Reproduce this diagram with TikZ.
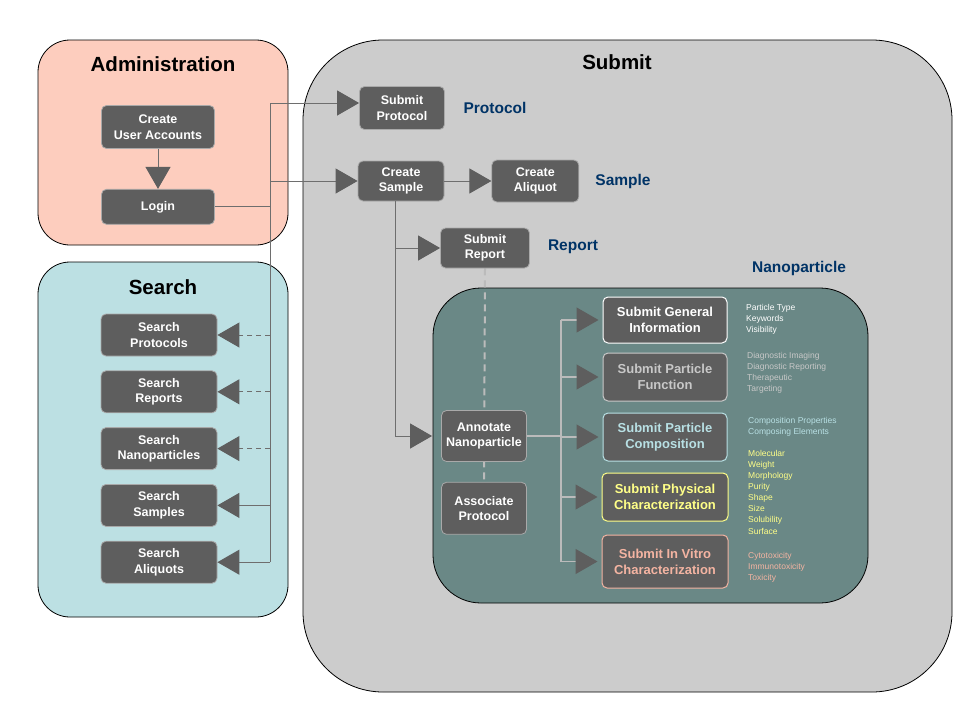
\documentclass[tikz,border=0pt]{standalone}
\usepackage{fontspec}
\setmainfont{Liberation Sans}
\usetikzlibrary{positioning,arrows.meta}

\definecolor{adminfill}{HTML}{FDCDBE}
\definecolor{searchfill}{HTML}{BCE0E3}
\definecolor{submitfill}{HTML}{CCCCCC}
\definecolor{nanofill}{HTML}{6A8886}
\definecolor{boxgray}{HTML}{5E5E5E}
\definecolor{boxedge}{HTML}{A9A9A9}
\definecolor{labelblue}{HTML}{003366}
\definecolor{lightline}{HTML}{BBBBBB}
\definecolor{funcgray}{HTML}{C8C8C8}
\definecolor{compcyan}{HTML}{B8E0E4}
\definecolor{physyellow}{HTML}{FFFF88}
\definecolor{vitrosalmon}{HTML}{F4B4A2}

\pgfdeclarelayer{panels}
\pgfdeclarelayer{behind}
\pgfsetlayers{panels,behind,main}

\tikzset{
  panel/.style={draw=black, line width=0.8pt},
  title/.style={font=\bfseries\fontsize{20.5}{24}\selectfont},
  area/.style={font=\bfseries\fontsize{15.5}{18}\selectfont, text=labelblue},
  box/.style={draw=boxedge, fill=boxgray, rounded corners=5pt, text=white, align=center,
    font=\bfseries\fontsize{12.5}{15.5}\selectfont, inner sep=2pt, minimum height=42pt, line width=0.8pt},
  subbox/.style={box, font=\bfseries\fontsize{13}{16}\selectfont, minimum width=124pt, minimum height=48pt, line width=1pt},
  conn/.style={draw=boxgray!90!white, line width=1pt},
  lconn/.style={draw=lightline, line width=1.2pt},
  tri/.style={-{Triangle[length=22pt,width=25pt,color=boxgray]}},
  notes/.style={anchor=north west, align=left, inner sep=0pt, font=\fontsize{8.5}{11.1}\selectfont}
}

\begin{document}
\begin{tikzpicture}[x=1pt, y=-1pt]
  \useasboundingbox (0,0) rectangle (960,720);

  % Panels
  \begin{pgfonlayer}{panels}
    \draw[panel, fill=adminfill, rounded corners=32pt] (38,40) rectangle (288,245);
    \draw[panel, fill=searchfill, rounded corners=32pt] (38,262) rectangle (288,617);
    \draw[panel, fill=submitfill, rounded corners=80pt] (303,40) rectangle (952,692);
    \draw[panel, fill=nanofill, rounded corners=48pt] (433,288) rectangle (868,603);
  \end{pgfonlayer}

  % Titles
  \node[title] (tadmin) at (163,64) {Administration};
  \node[title] (tsearch) at (163,287) {Search};
  \node[title] (tsubmit) at (617,62) {Submit};

  % Administration
  \node[box, minimum width=113pt, minimum height=43pt] (cua) at (158,127) {Create\\User Accounts};
  \node[box, minimum width=113pt, minimum height=35pt, below=40pt of cua] (login) {Login};

  % Search
  \node[box, minimum width=116pt] (sprots) at (159,335) {Search\\Protocols};
  \node[box, minimum width=116pt, below=14pt of sprots] (sreps) {Search\\Reports};
  \node[box, minimum width=116pt, below=14pt of sreps] (snanos) {Search\\Nanoparticles};
  \node[box, minimum width=116pt, below=14pt of snanos] (ssamps) {Search\\Samples};
  \node[box, minimum width=116pt, below=14pt of ssamps] (saliqs) {Search\\Aliquots};

  % Submit
  \node[box, minimum width=85pt, minimum height=43pt] (sprot) at (402,108) {Submit\\Protocol};
  \node[box, minimum width=86pt, minimum height=40pt] (csample) at (401,181) {Create\\Sample};
  \node[box, minimum width=87pt, right=47pt of csample] (caliquot) {Create\\Aliquot};
  \node[box, minimum width=89pt, minimum height=40pt] (sreport) at (485,248) {Submit\\Report};
  \node[box, minimum width=85pt, minimum height=51pt] (annot) at (484,436) {Annotate\\Nanoparticle};
  \node[box, minimum width=85pt, minimum height=52pt, below=20pt of annot] (assoc) {Associate\\Protocol};

  % Area labels
  \node[area] (lprot) at (495,108) {Protocol};
  \node[area] (lsample) at (623,181) {Sample};
  \node[area] (lreport) at (573,247) {Report};
  \node[area] (lnano) at (799,268) {Nanoparticle};

  % Nanoparticle boxes
  \node[subbox, draw=white, minimum height=46pt] (sgen) at (665,320) {Submit General\\Information};
  \node[subbox, draw=funcgray, text=funcgray, below=9pt of sgen] (sfunc) {Submit Particle\\Function};
  \node[subbox, draw=compcyan, text=compcyan, below=11pt of sfunc] (scomp) {Submit Particle\\Composition};
  \node[subbox, draw=physyellow, text=physyellow, minimum width=126pt, below=11pt of scomp] (sphys) {Submit Physical\\Characterization};
  \node[subbox, draw=vitrosalmon, text=vitrosalmon, minimum width=126pt, minimum height=53pt, below=13pt of sphys] (svitro) {Submit In Vitro\\Characterization};

  % Notes
  \node[notes, text=white] (ngen) at (746,304) {Particle Type\\Keywords\\Visibility};
  \node[notes, text=funcgray] (nfunc) at (747,352) {Diagnostic Imaging\\Diagnostic Reporting\\Therapeutic\\Targeting};
  \node[notes, text=compcyan] (ncomp) at (748,417) {Composition Properties\\Composing Elements};
  \node[notes, text=physyellow] (nphys) at (748,450) {Molecular\\Weight\\Morphology\\Purity\\Shape\\Size\\Solubility\\Surface};
  \node[notes, text=vitrosalmon] (nvitro) at (748,552) {Cytotoxicity\\Immunotoxicity\\Toxicity};

  % Login bus
  \coordinate (busT) at (270,103);
  \coordinate (busB) at (270,558);
  \draw[conn] (login.east) -- (login.east -| busT);
  \draw[conn] (busT) -- (busB |- saliqs);
  \draw[conn, tri] (busT) -- (sprot.west |- busT);
  \draw[conn, tri] (busT |- csample) -- (csample.west);
  \draw[conn, tri] (cua.south) -- (login.north);

  % Search arrows
  \draw[conn, dashed, dash pattern=on 5pt off 4pt, tri] (busT |- sprots) -- (sprots.east);
  \draw[conn, dashed, dash pattern=on 5pt off 4pt, tri] (busT |- sreps) -- (sreps.east);
  \draw[conn, dashed, dash pattern=on 5pt off 4pt, tri] (busT |- snanos) -- (snanos.east);
  \draw[conn, tri] (busT |- ssamps) -- (ssamps.east);
  \draw[conn, tri] (busT |- saliqs) -- (saliqs.east);

  % Sample branch
  \coordinate (cs) at ([xshift=-6pt]csample.south);
  \draw[conn, tri] (csample.east) -- (caliquot.west);
  \draw[conn] (cs) -- (cs |- annot);
  \draw[conn, tri] (cs |- sreport) -- (sreport.west);
  \draw[conn, tri, shorten >=9pt] (cs |- annot) -- (annot.west);

  % Report to nanoparticle
  \begin{pgfonlayer}{behind}
    \draw[lconn, line width=2pt, dash pattern=on 7pt off 5pt] (sreport.south) -- (assoc.north);
  \end{pgfonlayer}

  % Nanoparticle bus
  \draw[lconn] (annot.east) -- ++(34,0) coordinate (nb);
  \draw[lconn] (nb |- sgen) -- (nb |- svitro);
  \draw[lconn, tri, shorten >=4pt] (nb |- sgen) -- (sgen.west);
  \draw[lconn, tri, shorten >=4pt] (nb |- sfunc) -- (sfunc.west);
  \draw[lconn, tri, shorten >=4pt] (nb |- scomp) -- (scomp.west);
  \draw[lconn, tri, shorten >=4pt] (nb |- sphys) -- (sphys.west);
  \draw[lconn, tri, shorten >=4pt] (nb |- svitro) -- (svitro.west);

\end{tikzpicture}
\end{document}
